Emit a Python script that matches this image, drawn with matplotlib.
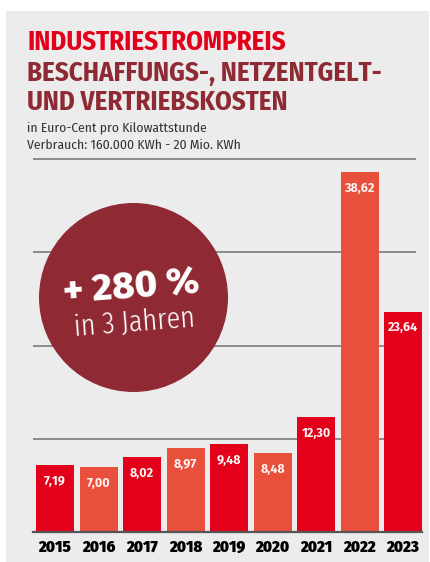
import matplotlib
matplotlib.use("Agg")
import matplotlib.pyplot as plt
from matplotlib.patches import Rectangle, Circle

# ---- data ----
years = ["2015", "2016", "2017", "2018", "2019", "2020", "2021", "2022", "2023"]
values = [7.19, 7.00, 8.02, 8.97, 9.48, 8.48, 12.30, 38.62, 23.64]
value_labels = ["7,19", "7,00", "8,02", "8,97", "9,48", "8,48", "12,30", "38,62", "23,64"]
grid_values = [10, 20, 30, 40]

RED = "#e3001b"
ORANGE = "#e9503c"
DARK = "#8e2a34"
colors = [RED if i % 2 == 0 else ORANGE for i in range(len(years))]

W, H = 430, 562
fig = plt.figure(figsize=(W / 100, H / 100), dpi=100)
fig.patch.set_facecolor("white")

def fx(px):
    return px / W

def fy(py):
    return 1 - py / H

# grey panel
fig.add_artist(Rectangle((fx(6), 0), fx(429) - fx(6), fy(11), transform=fig.transFigure,
                         facecolor="#ececec", edgecolor="none", zorder=0))

# ---- titles ----
tfont = dict(family=["Fira Sans Condensed", "DejaVu Sans"], weight=750, fontsize=19.3, va="baseline", ha="left")
fig.text(fx(27), fy(50), "INDUSTRIESTROMPREIS", color=RED, **tfont)
fig.text(fx(27), fy(81), "BESCHAFFUNGS-, NETZENTGELT-", color=DARK, **tfont)
fig.text(fx(27), fy(110), "UND VERTRIEBSKOSTEN", color=DARK, **tfont)
sfont = dict(family=["Fira Sans Condensed", "DejaVu Sans"], weight="normal", fontsize=9.8, va="baseline", ha="left", color="#333333")
fig.text(fx(27), fy(131.5), "in Euro-Cent pro Kilowattstunde", **sfont)
fig.text(fx(27), fy(149), "Verbrauch: 160.000 KWh - 20 Mio. KWh", **sfont)

# ---- bar axes ----
pitch = 43.5
c0 = 55
ax_l, ax_r, ax_b, ax_t = 33, 422, 532, 159
ax = fig.add_axes([fx(ax_l), fy(ax_b), fx(ax_r) - fx(ax_l), fy(ax_t) - fy(ax_b)])
ax.set_facecolor("none")
ax.set_xlim((ax_l - c0) / pitch, (ax_r - c0) / pitch)
ax.set_ylim(0, 40)
for s in ax.spines.values():
    s.set_visible(False)

grid_end = (416 - c0) / pitch
ax.hlines(grid_values, (ax_l - c0) / pitch, grid_end, colors="#7a7a7a", linewidth=1.2, zorder=1, clip_on=False)
ax.axhline(0, color="#555555", linewidth=1.6, zorder=3, clip_on=False)

x = list(range(len(years)))
ax.bar(x, values, width=38 / pitch, color=colors, zorder=2)

for i, (v, lab) in enumerate(zip(values, value_labels)):
    ax.annotate(lab, xy=(i, v), xytext=(0, -10.8), textcoords="offset points",
                ha="center", va="center_baseline", color="#fff4f4", fontsize=9,
                family=["Fira Sans", "DejaVu Sans"], weight=700, zorder=4)

ax.set_yticks([])
ax.set_xticks(x)
ax.set_xticklabels(years, family=["Fira Sans Condensed", "DejaVu Sans"], weight=900,
                   fontsize=11.8, color="black", va="baseline")
ax.tick_params(axis="x", length=0, pad=14.2)

# ---- circle overlay ----
ov = fig.add_axes([0, 0, 1, 1], zorder=5)
ov.set_xlim(0, W)
ov.set_ylim(H, 0)
ov.axis("off")
ov.add_patch(Circle((133.5, 297.5), 94.5, facecolor="#8f2a34", edgecolor="none"))
ov.text(131, 287, "+ 280 %", ha="center", va="center", color="white", fontsize=27.5,
        family=["Fira Sans", "DejaVu Sans"], weight=800, rotation=4.5, rotation_mode="anchor")
ov.text(134, 323, "in 3 Jahren", ha="center", va="center", color="white", fontsize=22,
        family=["Fira Sans Extra Condensed", "Fira Sans Condensed", "DejaVu Sans"], weight=300,
        rotation=4.5, rotation_mode="anchor")

fig.savefig("out.png", dpi=100, facecolor="white")
